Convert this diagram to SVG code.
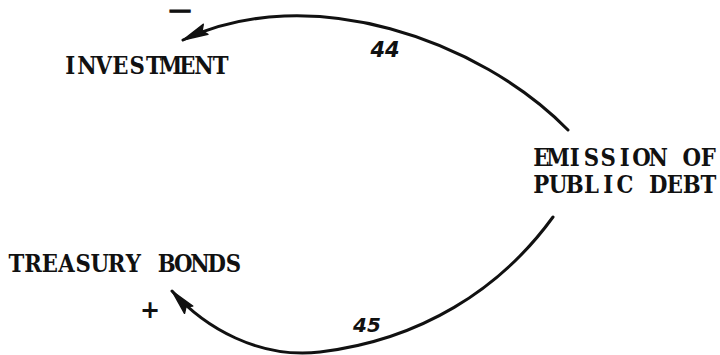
<svg xmlns="http://www.w3.org/2000/svg" width="720" height="355" viewBox="0 0 720 355">
<style>
.lbl{font-family:"DejaVu Serif","Liberation Serif",serif;font-weight:bold;font-size:25px;fill:#111;text-anchor:middle}
.hand{font-family:"DejaVu Sans","Liberation Sans",sans-serif;font-style:italic;font-weight:bold;fill:#111}
.conn{fill:none;stroke:#111;stroke-width:3;stroke-linecap:round}
</style>
<defs>
<marker id="ah" markerUnits="userSpaceOnUse" markerWidth="32" markerHeight="18" viewBox="-28 -9 32 18" refX="0" refY="0" orient="auto">
<path d="M0,0 L-25,-5.5 L-21,0 L-25,5.5 Z" fill="#111" stroke="#111" stroke-width="1.5" stroke-linejoin="round"/>
</marker>
</defs>
<rect width="720" height="355" fill="#fff"/>
<g id="connectors">
<path class="conn" d="M568,130 C480,40 310,-20 183,40" marker-end="url(#ah)"/>
<path class="conn" d="M553,217 C500,290 420,340 320,352 C259,359 205,328 172,291" marker-end="url(#ah)"/>
<text class="hand" x="385" y="57" font-size="21" text-anchor="middle">44</text>
<text class="hand" x="367" y="332" font-size="20" text-anchor="middle">45</text>
<text class="hand" transform="translate(180,17) scale(1.7,1)" font-size="18" text-anchor="middle" font-style="normal" stroke="#111" stroke-width="1.3">−</text>
<text class="hand" x="150" y="318" font-size="24" text-anchor="middle">+</text>
</g>
<g id="investment">
<text class="lbl" transform="scale(0.85,1)" x="82.76 102.41 122.06 141.71 161.35 181 200.65 220.29 239.94 259.59" y="74">INVESTMENT</text>
</g>
<g id="emission">
<text class="lbl" transform="scale(0.85,1)" x="636.88 656.53 676.18 695.82 715.47 735.12 754.76 774.41 794.06 813.71 833.35" y="166">EMISSION OF</text>
<text class="lbl" transform="scale(0.85,1)" x="636.88 656.53 676.18 695.82 715.47 735.12 754.76 774.41 794.06 813.71 833.35" y="193">PUBLIC DEBT</text>
</g>
<g id="treasury">
<text class="lbl" transform="scale(0.85,1)" x="19.24 38.88 58.53 78.18 97.82 117.47 137.12 156.76 176.41 196.06 215.71 235.35 255 274.65" y="272">TREASURY BONDS</text>
</g>
</svg>
